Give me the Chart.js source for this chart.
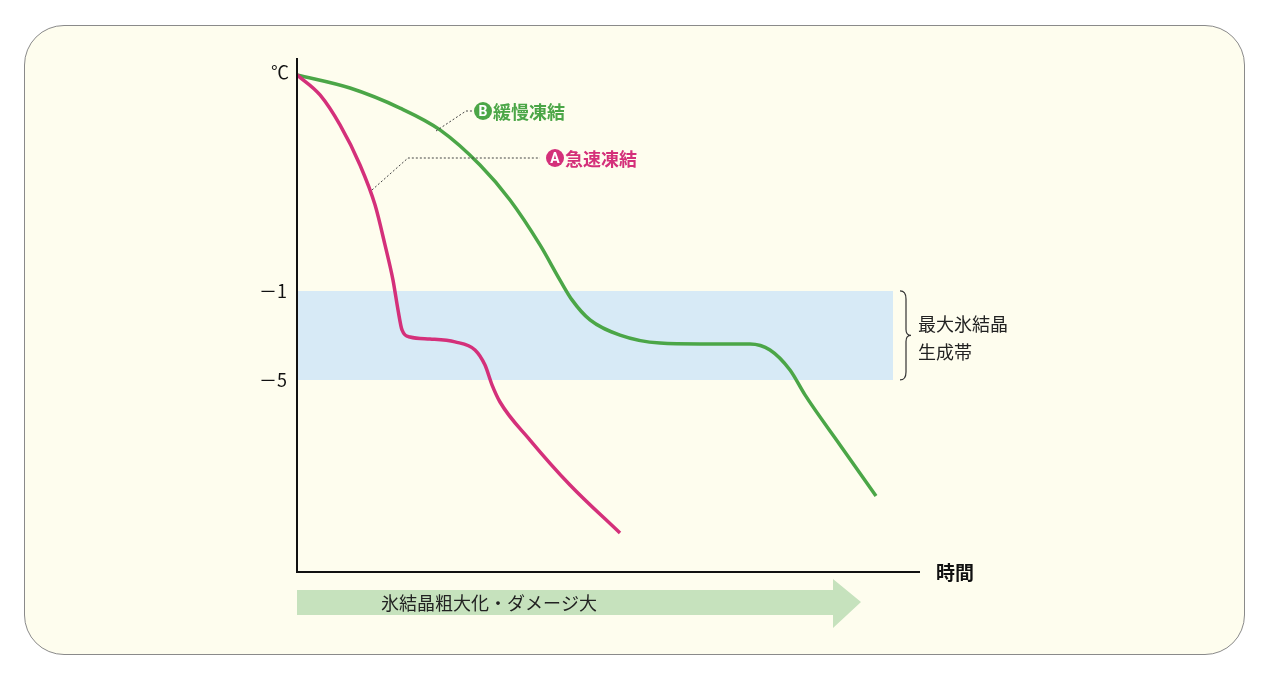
<!DOCTYPE html>
<html><head><meta charset="utf-8">
<script src="https://cdn.jsdelivr.net/npm/chart.js@4"></script>
<style>
html,body{margin:0;padding:0;background:#fff;}
#frame{position:absolute;left:24px;top:25px;width:1219px;height:628px;border:1.3px solid #8a8a8a;border-radius:40px;background:#fefdee;}
#wrap{position:absolute;left:0;top:0;width:1280px;height:684px;}
</style></head><body>
<div id="frame"></div>
<div id="wrap"><canvas id="c" width="1280" height="684"></canvas></div>
<script>
const rapidTime = [0,23,43,63,78,88,96,101,105,113,133,158,178,188,195,203,233,273,323];
const rapidTemp = [8.71,7.81,6.46,4.66,2.87,1.07,-0.51,-1.85,-2.75,-3.07,-3.16,-3.29,-3.65,-4.33,-5.22,-5.99,-7.70,-9.72,-11.88];
const slowTime = [0,53,103,143,183,213,243,263,275,293,323,363,403,453,473,493,508,543,579];
const slowTemp = [8.71,8.12,7.22,6.24,4.66,3.09,1.07,-0.51,-1.40,-2.30,-2.98,-3.34,-3.38,-3.38,-3.65,-4.55,-5.67,-7.92,-10.21];
const yTicks = [-1,-5];
const yTickLabels = ['－1','－5'];
const zoneTop = -1, zoneBottom = -5;

const RED='#d4307a', GREEN='#4ba647';
const pts=(xs,ys)=>xs.map((x,i)=>({x,y:ys[i]}));
const JP='"Noto Sans CJK JP", sans-serif';

const deco={id:'deco',
 beforeDatasetsDraw(ch){
  const {ctx,chartArea:a,scales:{x,y}}=ch;
  ctx.save();
  ctx.fillStyle='#d7eaf6';
  const t=y.getPixelForValue(zoneTop), b=y.getPixelForValue(zoneBottom);
  ctx.fillRect(a.left,t,x.getPixelForValue(596)-a.left,b-t);
  ctx.restore();
 },
 afterDatasetsDraw(ch){
  const {ctx,chartArea:a,scales:{x,y}}=ch;
  ctx.save();
  // axes
  ctx.strokeStyle='#111';ctx.lineWidth=2;
  ctx.beginPath();ctx.moveTo(a.left,a.top);ctx.lineTo(a.left,a.bottom);ctx.lineTo(a.right,a.bottom);ctx.stroke();
  ctx.fillStyle='#111';ctx.font='18px '+JP;ctx.textBaseline='middle';
  ctx.textAlign='right';
  yTicks.forEach((v,i)=>ctx.fillText(yTickLabels[i],a.left-10,y.getPixelForValue(v)));
  ctx.fillText('℃',a.left-8,72);
  ctx.textAlign='left';ctx.font='bold 19px '+JP;
  ctx.fillText('時間',a.right+16,a.bottom+1);
  // brace
  const t=y.getPixelForValue(zoneTop), b=y.getPixelForValue(zoneBottom), m=(t+b)/2;
  ctx.lineWidth=1.2;ctx.strokeStyle='#333';
  ctx.beginPath();ctx.moveTo(900,t);ctx.quadraticCurveTo(906,t,906,t+8);ctx.lineTo(906,m-6);ctx.quadraticCurveTo(906,m,911,m);
  ctx.quadraticCurveTo(906,m,906,m+6);ctx.lineTo(906,b-8);ctx.quadraticCurveTo(906,b,900,b);ctx.stroke();
  ctx.font='18px '+JP;ctx.fillStyle='#222';
  ctx.fillText('最大氷結晶',918,324);ctx.fillText('生成帯',918,352);
  // leaders
  ctx.setLineDash([2,2]);ctx.lineWidth=1;ctx.strokeStyle='#444';
  ctx.beginPath();ctx.moveTo(372,190);ctx.lineTo(408,158);ctx.lineTo(540,158);ctx.stroke();
  ctx.beginPath();ctx.moveTo(436,131);ctx.lineTo(466,111);ctx.lineTo(472,111);ctx.stroke();
  ctx.setLineDash([]);
  // labels
  const lab=(cx,cy,col,ch0,txt)=>{
   ctx.fillStyle=col;ctx.beginPath();ctx.arc(cx,cy,9,0,Math.PI*2);ctx.fill();
   ctx.fillStyle='#fff';ctx.font='bold 14px Roboto, sans-serif';ctx.textAlign='center';ctx.fillText(ch0,cx,cy+1);
   ctx.fillStyle=col;ctx.font='bold 18px '+JP;ctx.textAlign='left';ctx.fillText(txt,cx+10,cy+1);
  };
  lab(483,111,GREEN,'B','緩慢凍結');
  lab(555,158,RED,'A','急速凍結');
  // arrow
  ctx.fillStyle='#c6e2bd';
  ctx.beginPath();ctx.moveTo(297,590);ctx.lineTo(833,590);ctx.lineTo(833,579);ctx.lineTo(861,602);
  ctx.lineTo(833,628);ctx.lineTo(833,615);ctx.lineTo(297,615);ctx.closePath();ctx.fill();
  ctx.fillStyle='#222';ctx.font='18px '+JP;ctx.textAlign='left';
  ctx.fillText('氷結晶粗大化・ダメージ大',381,603);
  ctx.restore();
 }};

new Chart(document.getElementById('c'),{
 type:'line',
 data:{datasets:[
  {label:'A急速凍結',data:pts(rapidTime,rapidTemp),borderColor:RED,borderWidth:3.5,pointRadius:0,tension:0.4,cubicInterpolationMode:'monotone'},
  {label:'B緩慢凍結',data:pts(slowTime,slowTemp),borderColor:GREEN,borderWidth:3.5,pointRadius:0,tension:0.4,cubicInterpolationMode:'monotone'}
 ]},
 options:{responsive:false,animation:false,
  layout:{padding:{left:297,right:360,top:58,bottom:112}},
  plugins:{legend:{display:false},tooltip:{enabled:false}},
  scales:{x:{type:'linear',min:0,max:623,display:false},
          y:{min:-13.63,max:9.47,display:false}}},
 plugins:[deco]
});
</script></body></html>
